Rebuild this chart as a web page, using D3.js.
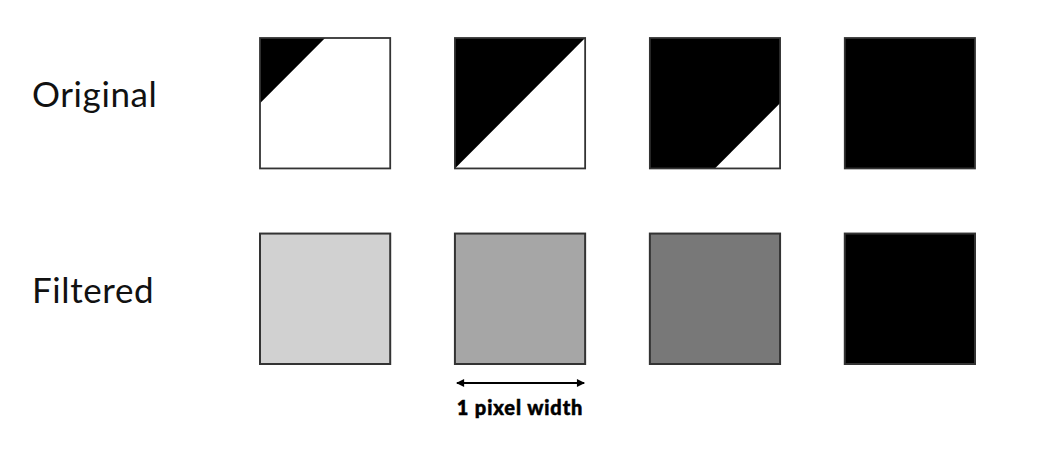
<!DOCTYPE html>
<html>
<head>
<meta charset="utf-8">
<script src="https://cdn.jsdelivr.net/npm/d3@7"></script>
<style>
  body { margin: 0; background: #fff; }
  svg { display: block; }
</style>
</head>
<body>
<svg id="chart" width="1051" height="449"></svg>
<script>
// rows and columns
var rowLabels = ["Original", "Filtered"];
var columns = [0, 1, 2, 3];
// edge offset of the 45deg boundary (u + v < t is black), in pixel units
var edgeOffset = [0.5, 1, 1.5, 2];
// darkness of the filtered pixel (0 = white, 1 = black)
var filteredLevel = [0.18, 0.35, 0.53, 1];
var widthLabel = "1 pixel width";

var svg = d3.select("#chart");

var x = d3.scaleBand().domain(columns).range([260, 975]).paddingInner(0.332);
var y = d3.scaleBand().domain(rowLabels).range([38, 364]).paddingInner(0.333);
var gray = d3.scaleLinear().domain([0, 1]).range(["#ffffff", "#000000"]);

// row labels
svg.selectAll("text.rowlabel")
  .data(rowLabels)
  .enter().append("text")
  .attr("class", "rowlabel")
  .attr("x", 32)
  .attr("y", function(d){ return y(d) + y.bandwidth() / 2 + 4; })
  .attr("font-family", "Lato, 'Open Sans', sans-serif")
  .attr("font-size", 35)
  .attr("letter-spacing", 0.6)
  .attr("fill", "#111")
  .text(function(d){ return d; });

// original row: clipped triangles
var defs = svg.append("defs");
var orig = svg.append("g");
columns.forEach(function(i){
  var x0 = x(i), y0 = y("Original"), bw = x.bandwidth();
  var u = d3.scaleLinear().domain([0, 1]).range([x0, x0 + bw]);
  var v = d3.scaleLinear().domain([0, 1]).range([y0, y0 + y.bandwidth()]);
  defs.append("clipPath").attr("id", "clip" + i)
    .append("rect").attr("x", u(0)).attr("y", v(0))
    .attr("width", u(1) - u(0)).attr("height", v(1) - v(0));
  orig.append("rect")
    .attr("x", u(0)).attr("y", v(0))
    .attr("width", u(1) - u(0)).attr("height", v(1) - v(0))
    .attr("fill", "#fff");
  var t = edgeOffset[i];
  orig.append("path")
    .attr("clip-path", "url(#clip" + i + ")")
    .attr("d", d3.line()([[u(0), v(0)], [u(t), v(0)], [u(0), v(t)]]) + "Z")
    .attr("fill", "#000");
  orig.append("rect")
    .attr("x", u(0)).attr("y", v(0))
    .attr("width", u(1) - u(0)).attr("height", v(1) - v(0))
    .attr("fill", "none").attr("stroke", "#333").attr("stroke-width", 1.8);
});

// filtered row
svg.append("g").selectAll("rect")
  .data(columns)
  .enter().append("rect")
  .attr("x", function(d){ return x(d); })
  .attr("y", y("Filtered"))
  .attr("width", x.bandwidth())
  .attr("height", y.bandwidth())
  .attr("fill", function(d){ return gray(filteredLevel[d]); })
  .attr("stroke", "#333")
  .attr("stroke-width", 2);

// width arrow under the second column
defs.append("marker").attr("id", "ah")
  .attr("viewBox", "0 0 10 10").attr("refX", 9).attr("refY", 5)
  .attr("markerWidth", 10).attr("markerHeight", 8)
  .attr("markerUnits", "userSpaceOnUse")
  .attr("orient", "auto-start-reverse")
  .append("path").attr("d", "M0,0L10,5L0,10Z").attr("fill", "#000");

var ay = y("Filtered") + y.bandwidth() + 19;
svg.append("line")
  .attr("x1", x(1) + 2).attr("x2", x(1) + x.bandwidth() - 1)
  .attr("y1", ay).attr("y2", ay)
  .attr("stroke", "#000").attr("stroke-width", 2)
  .attr("marker-start", "url(#ah)").attr("marker-end", "url(#ah)");

svg.append("text")
  .attr("x", x(1) + x.bandwidth() / 2)
  .attr("y", ay + 32)
  .attr("text-anchor", "middle")
  .attr("font-family", "Lato, 'Open Sans', sans-serif")
  .attr("font-weight", 900)
  .attr("font-size", 20)
  .attr("letter-spacing", 0.9)
  .attr("stroke", "#000")
  .attr("stroke-width", 0.5)
  .attr("fill", "#000")
  .text(widthLabel);
</script>
</body>
</html>
